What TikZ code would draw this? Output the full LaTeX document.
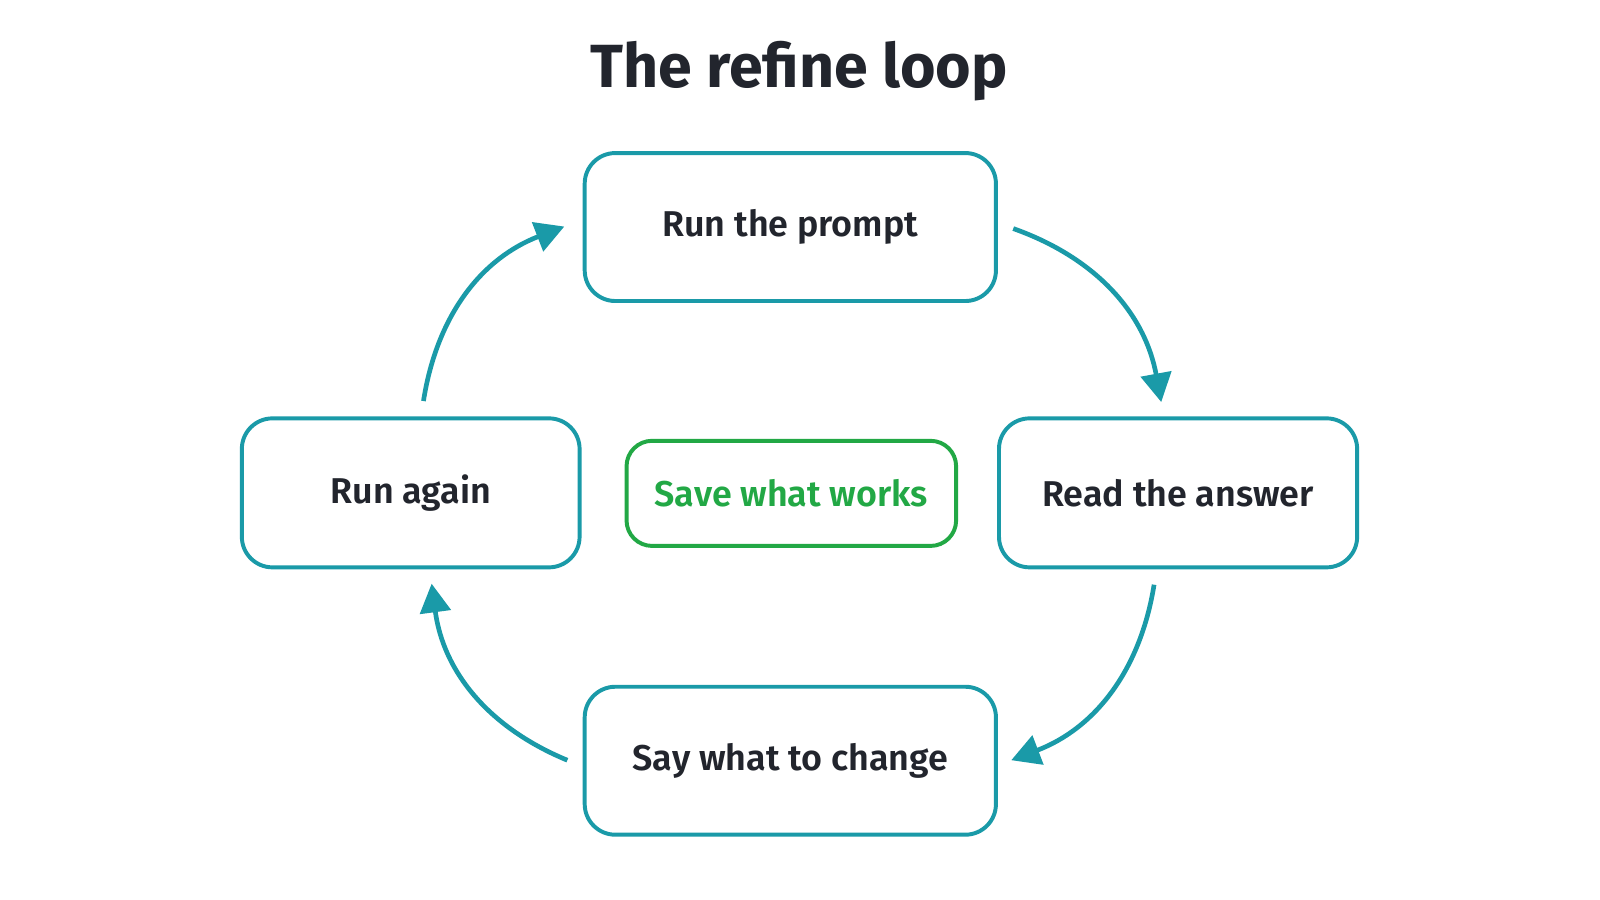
\documentclass[tikz,border=0pt]{standalone}
\usepackage{fontspec}
\setmainfont{Fira Sans}[BoldFont={Fira Sans SemiBold}]
\newfontfamily\titlefont{Fira Sans Bold}
\usetikzlibrary{arrows.meta}
\definecolor{teal}{HTML}{1A9AA8}
\definecolor{grn}{HTML}{22A845}
\definecolor{ink}{HTML}{22252D}
\begin{document}
\begin{tikzpicture}[x=0.02cm,y=-0.02cm,
  box/.style={draw=teal,line width=2.2pt,rounded corners=0.6cm,fill=white,inner sep=0},
  lab/.style={font=\fontsize{20}{24}\selectfont\bfseries,text=ink},
  arr/.style={draw=teal,line width=2.6pt,-{Triangle[length=16pt,width=17pt]}}]
\useasboundingbox[fill=white] (0,0) rectangle (1568,882);
\node[font=\titlefont\fontsize{34}{42}\selectfont,text=ink] (title) at (783,70) {The refine loop};
\draw[box] (573,150) rectangle (976,295); \node[lab] (p) at (774.5,222) {Run the prompt};
\draw[box] (979,410) rectangle (1330,556); \node[lab] (r) at (1154.5,483) {Read the answer};
\draw[box] (237,410) rectangle (568,556); \node[lab] (a) at (402.5,483) {Run again};
\draw[box] (573,673) rectangle (976,818); \node[lab] (s) at (774.5,746) {Say what to change};
\draw[draw=grn,line width=2.2pt,rounded corners=0.5cm] (614,432) rectangle (937,535);
\node[lab,text=grn] (w) at (775.5,483) {Save what works};
\coordinate (a1) at (993,224); \coordinate (a2) at (1138,394);
\coordinate (b1) at (1131,573); \coordinate (b2) at (991,745);
\coordinate (c1) at (556,745); \coordinate (c2) at (423,572);
\coordinate (d1) at (415,393); \coordinate (d2) at (553,222);
\draw[arr] (a1) to[bend left=30] (a2);
\draw[arr] (b1) to[bend left=30] (b2);
\draw[arr] (c1) to[bend left=30] (c2);
\draw[arr] (d1) to[bend left=30] (d2);
\end{tikzpicture}
\end{document}
